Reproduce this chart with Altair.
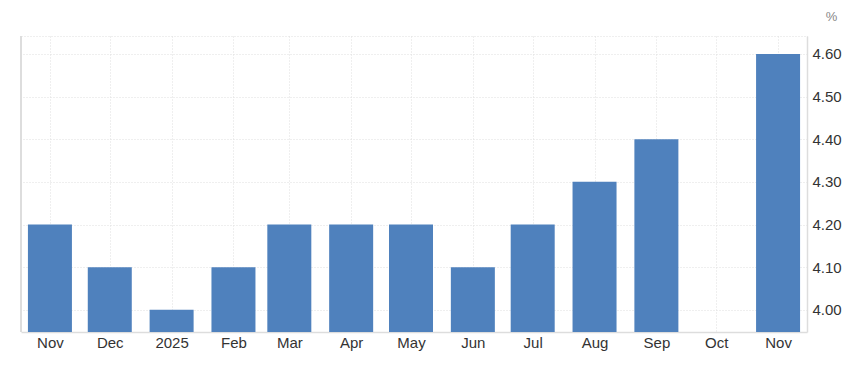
import altair as alt
import pandas as pd

dates = ["2024-11-01", "2024-12-01", "2025-01-01", "2025-02-01", "2025-03-01",
         "2025-04-01", "2025-05-01", "2025-06-01", "2025-07-01", "2025-08-01",
         "2025-09-01", "2025-11-01"]
values = [4.2, 4.1, 4.0, 4.1, 4.2, 4.2, 4.2, 4.1, 4.2, 4.3, 4.4, 4.6]
tick_months = [(2024, 11), (2024, 12), (2025, 1), (2025, 2), (2025, 3), (2025, 4),
               (2025, 5), (2025, 6), (2025, 7), (2025, 8), (2025, 9), (2025, 10), (2025, 11)]
y_ticks = [4.0, 4.1, 4.2, 4.3, 4.4, 4.5, 4.6]

df = pd.DataFrame({"date": dates, "value": values})

W, H = 786, 296
GRID = "#dedede"

x_enc = alt.X(
    "date:T",
    scale=alt.Scale(type="utc", padding=0,
                    domain=[alt.DateTime(year=2024, month=10, date=17, hours=12, utc=True),
                            alt.DateTime(year=2025, month=11, date=15, hours=12, utc=True)]),
    axis=alt.Axis(
        values=[alt.DateTime(year=y, month=m, date=1, utc=True) for y, m in tick_months],
        labelExpr="utcFormat(datum.value, '%m') == '01' ? utcFormat(datum.value, '%Y') : utcFormat(datum.value, '%b')",
        title=None, grid=True, gridColor=GRID, gridDash=[1, 2], gridWidth=1,
        ticks=False, labelPadding=3, labelFontSize=15, labelColor="#333333",
        labelFont="Liberation Sans", domainColor="#dddddd", domainWidth=1.5,
    ),
)

bars = alt.Chart(df).mark_bar(width=44, color="#4f81bd", clip=True).encode(
    x=x_enc,
    y=alt.Y(
        "value:Q",
        scale=alt.Scale(domain=[3.948, 4.642], zero=False, nice=False),
        axis=alt.Axis(
            orient="right", values=y_ticks, format=".2f", title="%",
            titleAngle=0, titleX=24, titleY=-20, titleFontSize=13,
            titleFontWeight="normal", titleColor="#888888", titleFont="Liberation Sans",
            titleAlign="center", titleBaseline="middle",
            grid=True, gridColor=GRID, gridDash=[1, 2], gridWidth=1,
            ticks=False, labelPadding=5, labelFontSize=15, labelColor="#333333",
            labelFont="Liberation Sans", domainColor="#dddddd", domainWidth=1.5,
        ),
    ),
)

left_line = alt.Chart(df).mark_rule(color="#dddddd", strokeWidth=1.5).encode(
    x=alt.value(0), y=alt.value(0), y2=alt.value(H)
)

chart = alt.layer(bars, left_line).properties(
    width=W, height=H,
    autosize=alt.AutoSizeParams(type="none"),
    padding={"left": 21, "top": 36, "right": 43, "bottom": 34},
).configure_view(stroke=GRID, strokeDash=[1, 2], strokeWidth=1)

chart.save("out.html", embed_options={"renderer": "svg", "actions": False})
